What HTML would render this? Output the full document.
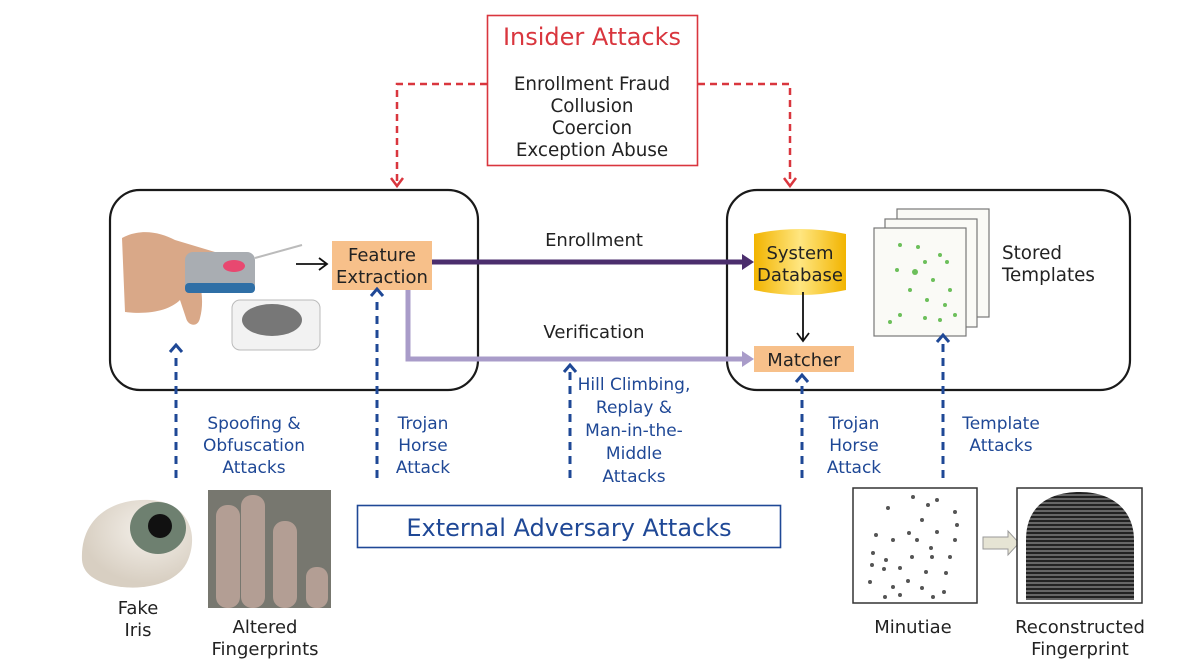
<!DOCTYPE html>
<html><head><meta charset="utf-8"><style>
html,body{margin:0;padding:0;background:#fff;width:1200px;height:670px;overflow:hidden}
svg{display:block}
text{font-family:"DejaVu Sans","Liberation Sans",sans-serif}
</style></head><body>
<svg width="1200" height="670" viewBox="0 0 1200 670" xmlns="http://www.w3.org/2000/svg">
<defs>
<linearGradient id="db" x1="0" x2="1"><stop offset="0" stop-color="#f2b400"/><stop offset="0.5" stop-color="#ffe680"/><stop offset="1" stop-color="#f2b400"/></linearGradient>
<radialGradient id="eye" cx="0.6" cy="0.35" r="0.6"><stop offset="0" stop-color="#f4f0ea"/><stop offset="1" stop-color="#d8cfc2"/></radialGradient>
<pattern id="fp" width="6" height="4" patternUnits="userSpaceOnUse"><rect width="6" height="4" fill="#666"/><rect width="6" height="2" fill="#222"/></pattern>
</defs>

<rect x="487.5" y="15.5" width="210" height="150" fill="#fff" stroke="#d9363e" stroke-width="1.6"/>
<text x="592" y="45" font-size="24" fill="#d9363e" text-anchor="middle">Insider Attacks</text>
<g font-size="18.3" fill="#222" text-anchor="middle">
<text x="592" y="90">Enrollment Fraud</text>
<text x="592" y="112">Collusion</text>
<text x="592" y="134">Coercion</text>
<text x="592" y="156">Exception Abuse</text>
</g>
<g stroke="#d9363e" stroke-width="2.5" fill="none" stroke-dasharray="7,5">
<path d="M487 84 H397 V182"/>
<path d="M698 84 H790 V182"/>
</g>
<g stroke="#d9363e" stroke-width="2.5" fill="none">
<path d="M391 178 L397 186 L403 178"/>
<path d="M784 178 L790 186 L796 178"/>
</g>

<rect x="110" y="190" width="368" height="200" rx="30" fill="none" stroke="#1a1a1a" stroke-width="2.2"/>
<rect x="727" y="190" width="403" height="200" rx="30" fill="none" stroke="#1a1a1a" stroke-width="2.2"/>

<path d="M122 238 C140 228 160 232 175 240 L235 258 C240 262 236 268 228 266 L195 262 C200 280 205 300 200 318 C198 328 188 326 186 318 L180 300 C170 310 150 315 125 312 Z" fill="#d9a888"/>
<rect x="185" y="252" width="70" height="40" rx="8" fill="#a9adb2"/>
<rect x="185" y="283" width="70" height="10" rx="4" fill="#2f6fa6"/>
<ellipse cx="234" cy="266" rx="11" ry="6" fill="#e84870"/>
<path d="M255 258 L302 245" stroke="#bbb" stroke-width="2"/>
<rect x="232" y="300" width="88" height="50" rx="8" fill="#f2f2f2" stroke="#bbb"/>
<ellipse cx="272" cy="320" rx="30" ry="16" fill="#777"/>
<path d="M296 264 H326 M319 258 L327 264 L319 270" stroke="#111" stroke-width="1.8" fill="none"/>

<rect x="332" y="241" width="100" height="49" fill="#f7c08a"/>
<text x="382" y="261" font-size="18" fill="#222" text-anchor="middle">Feature</text>
<text x="382" y="283" font-size="18" fill="#222" text-anchor="middle">Extraction</text>

<path d="M432 262 H742" stroke="#4b2e6d" stroke-width="5" fill="none"/>
<path d="M742 254 L754 262 L742 270 Z" fill="#4b2e6d"/>
<path d="M408 290 V359 H742" stroke="#a99cc9" stroke-width="5" fill="none"/>
<path d="M742 351 L754 359 L742 367 Z" fill="#a99cc9"/>
<text x="594" y="246" font-size="18" fill="#222" text-anchor="middle">Enrollment</text>
<text x="594" y="338" font-size="18" fill="#222" text-anchor="middle">Verification</text>

<path d="M754 234 Q800 224 846 234 V290 Q800 300 754 290 Z" fill="url(#db)"/>
<text x="800" y="259" font-size="18" fill="#222" text-anchor="middle">System</text>
<text x="800" y="281" font-size="18" fill="#222" text-anchor="middle">Database</text>
<path d="M803 292 V340 M797 333 L803 341 L809 333" stroke="#111" stroke-width="1.8" fill="none"/>
<rect x="754" y="346" width="100" height="26" fill="#f7c08a"/>
<text x="804" y="366" font-size="18" fill="#222" text-anchor="middle">Matcher</text>

<rect x="897" y="209" width="92" height="108" fill="#fafaf6" stroke="#777" stroke-width="1.2"/>
<rect x="885" y="219" width="92" height="108" fill="#fafaf6" stroke="#777" stroke-width="1.2"/>
<rect x="874" y="228" width="92" height="108" fill="#fafaf6" stroke="#777" stroke-width="1.2"/>
<g fill="#6cbf5a">
<circle cx="900" cy="245" r="2"/><circle cx="918" cy="247" r="2"/><circle cx="925" cy="262" r="2"/><circle cx="940" cy="255" r="2"/><circle cx="915" cy="272" r="3"/><circle cx="897" cy="270" r="2"/><circle cx="933" cy="280" r="2"/><circle cx="947" cy="262" r="2"/><circle cx="910" cy="290" r="2"/><circle cx="927" cy="300" r="2"/><circle cx="945" cy="305" r="2"/><circle cx="900" cy="315" r="2"/><circle cx="925" cy="318" r="2"/><circle cx="955" cy="315" r="2"/><circle cx="940" cy="320" r="2"/><circle cx="890" cy="322" r="2"/><circle cx="950" cy="290" r="2"/>
</g>
<text x="1002" y="259" font-size="18.3" fill="#222">Stored</text>
<text x="1002" y="281" font-size="18.3" fill="#222">Templates</text>

<g stroke="#1f4896" stroke-width="3" fill="none" stroke-dasharray="8,6">
<path d="M176 478 V352"/>
<path d="M377 478 V296"/>
<path d="M570 478 V372"/>
<path d="M802 478 V382"/>
<path d="M943 478 V342"/>
</g>
<g stroke="#1f4896" stroke-width="3" fill="none">
<path d="M170 352 L176 345 L182 352"/>
<path d="M371 296 L377 289 L383 296"/>
<path d="M564 372 L570 365 L576 372"/>
<path d="M796 382 L802 375 L808 382"/>
<path d="M937 342 L943 335 L949 342"/>
</g>
<g font-size="17" fill="#1f4896" text-anchor="middle">
<text x="254" y="429">Spoofing &amp;</text>
<text x="254" y="451">Obfuscation</text>
<text x="254" y="473">Attacks</text>
<text x="423" y="429">Trojan</text>
<text x="423" y="451">Horse</text>
<text x="423" y="473">Attack</text>
<text x="634" y="390">Hill Climbing,</text>
<text x="634" y="413">Replay &amp;</text>
<text x="634" y="436">Man-in-the-</text>
<text x="634" y="459">Middle</text>
<text x="634" y="482">Attacks</text>
<text x="854" y="429">Trojan</text>
<text x="854" y="451">Horse</text>
<text x="854" y="473">Attack</text>
<text x="1001" y="429">Template</text>
<text x="1001" y="451">Attacks</text>
</g>

<rect x="357.5" y="505.5" width="423" height="42" fill="#fff" stroke="#1f4896" stroke-width="1.6"/>
<text x="569" y="536" font-size="24" fill="#1f4896" text-anchor="middle">External Adversary Attacks</text>

<path d="M82 560 C80 520 110 498 150 500 C185 502 200 530 188 560 C178 585 140 592 110 585 C92 580 83 572 82 560 Z" fill="url(#eye)"/>
<ellipse cx="158" cy="528" rx="28" ry="26" fill="#6e8070"/>
<circle cx="160" cy="526" r="12" fill="#111"/>
<text x="138" y="614" font-size="18" fill="#222" text-anchor="middle">Fake</text>
<text x="138" y="636" font-size="18" fill="#222" text-anchor="middle">Iris</text>

<rect x="208" y="490" width="123" height="118" fill="#77776f"/>
<g fill="#b39e94">
<rect x="216" y="505" width="24" height="103" rx="11"/>
<rect x="241" y="495" width="24" height="113" rx="11"/>
<rect x="273" y="521" width="24" height="87" rx="11"/>
<rect x="306" y="567" width="22" height="41" rx="10"/>
</g>
<text x="265" y="633" font-size="18" fill="#222" text-anchor="middle">Altered</text>
<text x="265" y="655" font-size="18" fill="#222" text-anchor="middle">Fingerprints</text>

<rect x="853" y="488" width="124" height="115" fill="#fff" stroke="#333" stroke-width="1.5"/>
<g fill="#555">
<circle cx="913" cy="497" r="2"/><circle cx="928" cy="505" r="2"/><circle cx="937" cy="500" r="2"/><circle cx="888" cy="508" r="2"/><circle cx="955" cy="512" r="2"/><circle cx="922" cy="520" r="2"/><circle cx="957" cy="525" r="2"/><circle cx="909" cy="533" r="2"/><circle cx="937" cy="532" r="2"/><circle cx="876" cy="535" r="2"/><circle cx="893" cy="540" r="2"/><circle cx="917" cy="540" r="2"/><circle cx="931" cy="548" r="2"/><circle cx="873" cy="553" r="2"/><circle cx="886" cy="560" r="2"/><circle cx="912" cy="557" r="2"/><circle cx="932" cy="557" r="2"/><circle cx="950" cy="557" r="2"/><circle cx="872" cy="565" r="2"/><circle cx="884" cy="569" r="2"/><circle cx="900" cy="568" r="2"/><circle cx="926" cy="572" r="2"/><circle cx="946" cy="573" r="2"/><circle cx="870" cy="582" r="2"/><circle cx="893" cy="587" r="2"/><circle cx="908" cy="581" r="2"/><circle cx="922" cy="588" r="2"/><circle cx="944" cy="592" r="2"/><circle cx="885" cy="597" r="2"/><circle cx="900" cy="595" r="2"/><circle cx="933" cy="597" r="2"/><circle cx="955" cy="540" r="2"/>
</g>
<path d="M983 537 H1008 V531 L1019 543 L1008 555 V549 H983 Z" fill="#e6e4d4" stroke="#999"/>
<rect x="1017" y="488" width="125" height="115" fill="#fff" stroke="#333" stroke-width="1.5"/>
<path d="M1026 600 V540 C1026 505 1050 492 1080 492 C1112 492 1134 510 1134 540 V600 Z" fill="url(#fp)"/>
<text x="913" y="633" font-size="18" fill="#222" text-anchor="middle">Minutiae</text>
<text x="1080" y="633" font-size="18" fill="#222" text-anchor="middle">Reconstructed</text>
<text x="1080" y="655" font-size="18" fill="#222" text-anchor="middle">Fingerprint</text>
</svg>
</body></html>
